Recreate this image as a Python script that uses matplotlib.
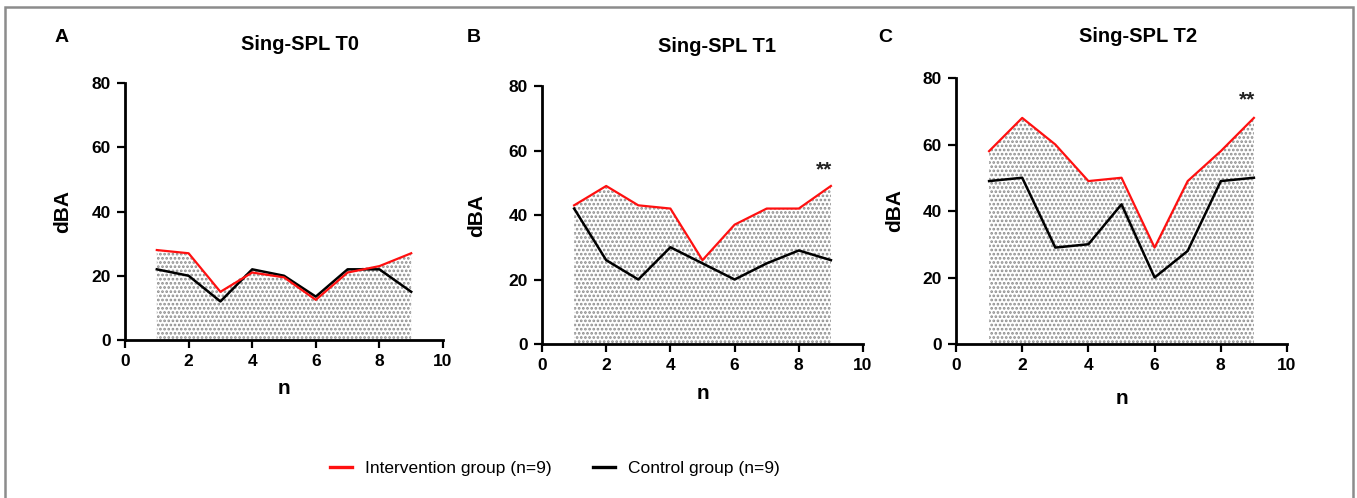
import matplotlib
matplotlib.use("Agg")
import matplotlib.pyplot as plt
from matplotlib.patches import Rectangle
from matplotlib.lines import Line2D

plt.rcParams['font.family'] = ['Liberation Sans', 'DejaVu Sans']
plt.rcParams['hatch.color'] = '#8c8c8c'
plt.rcParams['hatch.linewidth'] = 1.3

n = [1, 2, 3, 4, 5, 6, 7, 8, 9]
titles = ["Sing-SPL T0", "Sing-SPL T1", "Sing-SPL T2"]
letters = ["A", "B", "C"]
intervention = [
    [28, 27, 15, 21, 19.5, 12.5, 21, 23, 27],
    [43, 49, 43, 42, 26, 37, 42, 42, 49],
    [58, 68, 60, 49, 50, 29, 49, 58, 68],
]
control = [
    [22, 20, 12, 22, 20, 13.5, 22, 22, 15],
    [42, 26, 20, 30, 25, 20, 25, 29, 26],
    [49, 50, 29, 30, 42, 20, 28, 49, 50],
]
signif = [None, (8.8, 54), (8.8, 73.5)]

W, H = 1357, 498
fig = plt.figure(figsize=(W / 100, H / 100), dpi=100)

# panel boxes in pixels: left, right, top(y=80), bottom(y=0)
boxes = [(125, 443, 83, 340), (542, 863, 86, 344), (956, 1287, 78, 344)]
title_pos = [(300, 45), (717, 47), (1138, 37)]
letter_pos = [(62, 37), (474, 37), (885, 37)]
ylab_x = [63, 477, 895]
xlab_y = [388, 393, 398]

for i in range(3):
    l, r, t, b = boxes[i]
    ax = fig.add_axes([l / W, 1 - b / H, (r - l) / W, (b - t) / H])
    top = [max(a, c) for a, c in zip(intervention[i], control[i])]
    ax.fill_between(n, 0, top, facecolor='white', edgecolor='#8c8c8c',
                    hatch='....', linewidth=0)
    ax.plot(n, control[i], color='black', lw=1.8)
    ax.plot(n, intervention[i], color='#ff1010', lw=1.6)
    ax.set_xlim(0, 10)
    ax.set_ylim(0, 80)
    ax.set_xticks([0, 2, 4, 6, 8, 10])
    ax.set_yticks([0, 20, 40, 60, 80])
    for s in ['top', 'right']:
        ax.spines[s].set_visible(False)
    for s in ['left', 'bottom']:
        ax.spines[s].set_linewidth(2)
    ax.tick_params(width=1.6, length=6, labelsize=12.5, pad=4)
    for lab in ax.get_xticklabels() + ax.get_yticklabels():
        lab.set_fontweight('bold')
    ax.patch.set_alpha(0)
    if signif[i]:
        ax.text(signif[i][0], signif[i][1], "**", ha='center', va='center',
                fontsize=15, fontweight='bold', color='#222222')
    fig.text(title_pos[i][0] / W, 1 - title_pos[i][1] / H, titles[i],
             ha='center', va='center', fontsize=14.5, fontweight='bold')
    fig.text(letter_pos[i][0] / W, 1 - letter_pos[i][1] / H, letters[i],
             ha='center', va='center', fontsize=14, fontweight='bold')
    fig.text(ylab_x[i] / W, 1 - ((t + b) / 2) / H, "dBA", rotation=90,
             ha='center', va='center', fontsize=15, fontweight='bold')
    fig.text(((l + r) / 2) / W, 1 - xlab_y[i] / H, "n",
             ha='center', va='center', fontsize=15, fontweight='bold')

# legend
handles = [Line2D([], [], color='#ff1010', lw=2.4),
           Line2D([], [], color='black', lw=2.4)]
fig.legend(handles, ["Intervention group (n=9)", "Control group (n=9)"],
           loc='center', bbox_to_anchor=(555 / W, 1 - 468 / H), ncol=2,
           frameon=False, fontsize=12.5, handlelength=1.27, columnspacing=2.35,
           handletextpad=0.75)

# outer frame
fig.add_artist(Rectangle((5 / W, -0.01), (1353 - 5) / W, 1 - 7 / H + 0.01,
                         transform=fig.transFigure, fill=False,
                         edgecolor='#8c8c8c', lw=1.8))

fig.savefig("out.png", dpi=100)
